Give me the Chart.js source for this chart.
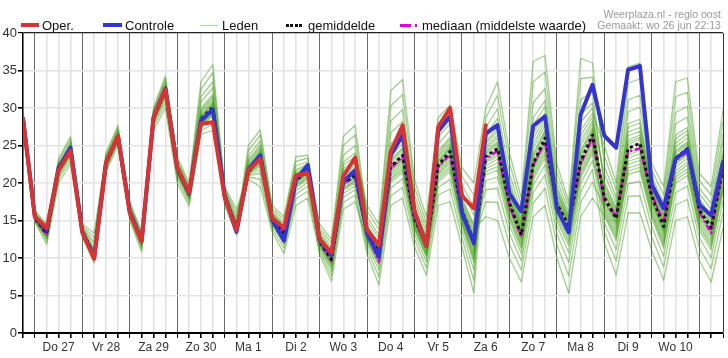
<!DOCTYPE html>
<html>
<head>
<meta charset="utf-8">
<script src="https://cdn.jsdelivr.net/npm/chart.js@4.4.1/dist/chart.umd.min.js"></script>
<style>
html,body{margin:0;padding:0;background:#fff;}
#wrap{position:relative;width:728px;height:358px;overflow:hidden;font-family:"Liberation Sans",Arial,sans-serif;}
#c{position:absolute;left:0;top:0;}
.lg{position:absolute;top:19px;font-size:13px;line-height:13px;color:#111;white-space:nowrap;}
.sw{position:absolute;}
.hdr{position:absolute;right:7px;font-size:10.6px;line-height:11px;color:#999;white-space:nowrap;}
</style>
</head>
<body>
<div id="wrap">
<canvas id="c" width="728" height="358"></canvas>
<div class="sw" style="left:21px;top:23px;width:18px;height:4px;background:#d83232;"></div>
<div class="lg" style="left:42px;">Oper.</div>
<div class="sw" style="left:103px;top:23px;width:19px;height:4px;background:#3434d0;"></div>
<div class="lg" style="left:125px;">Controle</div>
<div class="sw" style="left:200px;top:25px;width:18px;height:1px;background:#a9d99a;"></div>
<div class="lg" style="left:222px;">Leden</div>
<div class="sw" style="left:286px;top:24px;width:16px;height:3px;background:repeating-linear-gradient(90deg,#111 0 3px,transparent 3px 4.5px);"></div>
<div class="lg" style="left:308px;">gemiddelde</div>
<div class="sw" style="left:400px;top:24px;width:11px;height:3px;background:#e000e0;"></div>
<div class="sw" style="left:415px;top:24px;width:2px;height:3px;background:#e000e0;"></div>
<div class="lg" style="left:422px;">mediaan (middelste waarde)</div>
<div class="hdr" style="top:9px;">Weerplaza.nl - regio oost</div>
<div class="hdr" style="top:20px;">Gemaakt: wo 26 jun 22:13</div>
</div>
<script>
// 6-hourly steps starting wo 26 jun 18:00
const dayLabels = ['Do 27','Vr 28','Za 29','Zo 30','Ma 1','Di 2','Wo 3','Do 4','Vr 5','Za 6','Zo 7','Ma 8','Di 9','Wo 10'];
const yTicks = [0,5,10,15,20,25,30,35,40];

const oper = [28.6,15.5,14.0,21.7,24.3,13.4,9.9,22.7,26.3,16.0,12.2,28.7,32.5,22.1,18.7,27.9,28.1,18.1,13.7,21.7,23.2,15.3,14.0,21.0,21.3,12.5,10.7,20.9,23.4,13.8,11.7,24.2,27.7,16.3,11.6,27.5,30.0,18.3,16.6,27.7];
const controle = [28.6,15.5,13.7,22.0,24.7,13.5,10.1,22.7,26.2,16.2,12.3,28.7,32.6,22.0,18.6,28.3,29.8,18.3,13.5,21.8,23.7,15.1,12.3,20.4,22.4,12.4,10.4,20.2,21.7,13.3,10.2,23.7,26.4,16.0,11.6,26.9,28.9,16.0,12.0,26.6,27.7,18.6,16.2,27.6,28.9,16.6,13.4,29.1,33.1,26.3,24.7,35.1,35.6,19.8,16.6,23.2,24.5,17.1,15.7,22.8];
const gemiddelde = [28.6,15.3,13.3,21.8,24.5,13.6,10.3,22.8,26.3,16.1,12.3,28.8,32.5,22.0,18.6,28.5,30.1,18.4,14.0,21.5,23.4,15.2,13.3,20.4,21.5,12.2,9.8,20.0,21.0,13.3,10.8,22.2,23.7,15.3,11.7,22.4,24.2,16.3,12.2,23.5,24.6,17.3,13.1,22.5,26.0,17.2,14.3,22.9,26.4,18.0,15.3,24.6,25.3,18.2,14.2,23.3,24.6,16.4,14.0,22.0];
const mediaan = [28.5,15.3,13.0,21.8,24.5,13.6,10.2,22.8,26.3,16.1,12.3,28.8,32.5,22.0,18.6,28.3,29.7,18.4,14.0,21.5,23.4,15.2,13.3,20.4,21.5,12.2,9.6,20.0,20.8,13.2,9.5,22.0,23.5,15.2,11.6,22.2,23.8,16.0,11.8,23.2,24.3,17.0,12.8,22.4,25.5,16.8,14.3,22.6,26.0,17.7,15.5,24.2,24.6,18.5,14.7,23.0,24.2,16.2,13.3,22.0];

const lid01 = [28.7,15.4,13.4,22.0,24.7,13.7,10.6,22.9,26.4,16.2,12.4,28.9,32.7,22.2,18.7,29.0,30.7,18.5,14.3,23.1,25.1,16.0,14.3,21.8,22.5,13.2,11.0,22.8,24.0,17.0,14.5,32.3,33.8,20.4,15.5,28.7,30.4,22.0,20.0,30.0,33.5,24.0,18.0,36.2,37.0,22.5,17.5,36.6,36.0,22.2,18.1,31.1,31.7,20.8,17.4,29.4,30.2,19.3,17.3,26.6];
const lid02 = [28.4,15.2,12.9,21.3,23.9,13.4,10.0,22.4,25.9,15.8,11.9,28.3,31.8,21.4,18.1,27.9,29.2,18.0,13.7,20.5,19.5,13.5,10.6,17.0,18.0,10.5,6.9,16.5,17.5,12.2,9.0,20.1,21.4,13.8,10.1,20.2,21.5,14.4,9.4,22.7,23.6,16.6,12.5,21.8,25.1,16.5,13.4,22.2,25.6,14.7,11.1,19.9,20.2,14.2,10.2,18.7,19.6,12.7,10.0,17.6];
const lid03 = [29.1,15.9,14.0,22.7,25.5,14.1,12.1,23.5,27.1,16.9,13.0,29.5,33.6,22.9,19.4,31.5,33.5,19.1,15.5,22.2,24.1,15.6,13.7,21.0,21.9,12.7,10.3,21.2,22.3,13.5,11.0,22.7,24.2,15.6,11.9,22.7,24.5,16.6,12.6,17.5,17.4,11.8,8.4,17.3,19.3,11.8,7.6,17.4,20.1,16.8,13.8,22.9,23.4,16.8,12.8,21.6,22.8,15.1,12.6,20.4];
const lid04 = [28.6,15.3,13.2,21.7,24.4,13.6,10.3,22.7,26.2,16.0,12.2,28.7,32.4,21.9,18.5,28.4,29.9,18.3,14.0,25.0,27.1,17.0,15.5,23.5,23.7,14.5,12.5,26.2,27.7,15.5,13.0,28.3,29.8,18.4,14.0,26.2,27.9,19.7,16.9,25.5,27.3,19.3,14.6,26.6,29.3,18.8,15.3,27.0,29.3,25.0,20.0,35.5,36.0,22.6,19.5,33.5,34.0,21.3,19.5,29.7];
const lid05 = [28.0,14.8,11.8,20.0,22.5,12.8,9.3,21.5,25.0,15.0,10.8,27.0,30.0,20.0,16.9,26.5,27.0,17.0,13.0,21.3,22.6,14.9,12.8,19.7,20.8,11.9,9.2,19.3,20.3,11.8,8.4,19.3,20.6,13.2,9.5,19.4,20.5,13.7,8.4,27.4,29.9,21.3,16.0,30.7,32.6,20.4,16.2,31.1,32.2,19.4,16.2,26.8,27.4,19.1,15.3,25.3,26.5,17.4,15.1,23.5];
const lid06 = [28.9,15.6,13.7,22.3,25.0,13.9,11.2,23.2,26.7,16.5,12.7,29.2,33.0,22.5,19.0,30.0,31.8,18.7,14.8,21.1,21.8,14.5,12.2,19.0,20.1,11.5,8.6,18.6,19.6,13.0,10.4,21.7,23.1,14.9,11.3,21.9,23.5,15.8,11.5,23.1,24.1,16.9,12.8,22.2,25.6,16.8,13.9,22.5,26.0,18.4,15.5,25.1,25.8,18.4,14.5,23.8,25.1,16.6,14.3,22.4];
const lid07 = [28.6,15.4,13.4,21.9,24.6,13.6,10.5,22.9,26.4,16.2,12.4,28.9,32.6,22.1,18.7,28.8,30.4,18.5,14.1,21.7,23.6,15.3,13.4,20.6,21.6,12.3,9.9,20.3,21.3,14.4,11.9,25.2,26.7,16.8,12.8,24.3,26.1,18.0,14.5,28.7,31.7,22.7,17.0,33.5,34.8,21.4,16.9,33.9,34.1,23.6,19.1,33.3,33.9,21.7,18.4,31.5,32.1,20.3,18.4,28.2];
const lid08 = [28.3,15.0,12.5,20.8,23.4,13.2,9.8,22.1,25.6,15.5,11.5,27.8,31.1,20.9,17.7,27.4,28.4,17.6,13.5,23.6,25.6,16.3,14.6,22.3,22.8,13.6,11.4,23.7,25.0,14.0,11.5,24.2,25.7,16.3,12.5,23.7,25.4,17.4,13.8,15.5,15.0,10.0,6.8,15.5,17.0,10.0,5.3,15.5,18.0,15.6,12.3,21.2,21.6,15.3,11.3,20.0,21.0,13.7,11.1,18.8];
const lid09 = [29.5,16.3,14.5,23.3,26.2,14.5,13.3,24.0,27.7,17.5,13.5,30.0,34.3,23.5,20.0,33.5,35.8,19.5,16.5,21.4,23.0,15.0,13.0,20.1,21.2,12.0,9.5,19.7,20.7,12.5,9.5,20.6,22.0,14.2,10.5,20.8,22.2,14.9,10.1,24.2,25.5,18.0,13.6,23.9,27.1,17.7,14.6,24.3,27.4,17.7,14.9,24.2,24.8,17.8,13.8,22.9,24.1,16.1,13.6,21.6];
const lid10 = [28.5,15.2,13.0,21.4,24.1,13.4,10.1,22.5,26.0,15.9,12.0,28.4,32.0,21.6,18.3,28.1,29.5,18.1,13.8,21.0,21.3,14.3,11.8,18.5,19.6,11.3,8.2,18.1,19.1,11.2,7.5,18.3,19.4,12.5,8.7,18.4,19.2,12.7,7.0,26.4,28.6,20.3,15.3,28.7,31.0,19.6,15.7,29.1,30.7,20.1,16.7,27.9,28.5,19.5,15.8,26.4,27.4,17.9,15.7,24.3];
const lid11 = [29.0,15.8,13.8,22.5,25.3,14.0,11.7,23.3,26.9,16.7,12.8,29.3,33.3,22.7,19.2,30.8,32.7,18.9,15.1,22.6,24.5,15.7,14.0,21.3,22.2,12.9,10.6,21.9,23.0,16.3,13.8,30.3,31.8,19.4,14.7,27.4,29.2,20.9,18.4,21.1,21.7,15.1,11.2,20.4,23.3,15.0,11.6,20.7,23.9,13.5,9.6,18.2,18.3,12.8,8.8,17.1,17.8,11.4,8.6,16.0];
const lid12 = [28.4,15.1,12.7,21.1,23.7,13.3,9.9,22.3,25.8,15.7,11.7,28.1,31.5,21.2,17.9,27.7,28.9,17.8,13.6,24.3,26.4,16.6,15.1,22.9,23.3,14.0,12.0,25.0,26.4,15.0,12.5,26.7,28.2,17.6,13.4,25.2,27.0,18.9,15.7,23.8,25.0,17.6,13.3,23.2,26.6,17.5,14.5,23.6,26.9,18.7,15.8,25.7,26.4,18.6,14.7,24.3,25.5,16.9,14.6,22.8];
const lid13 = [28.8,15.5,13.5,22.1,24.8,13.8,10.9,23.0,26.6,16.4,12.5,29.0,32.9,22.3,18.9,29.5,31.2,18.6,14.5,20.8,20.5,13.9,11.3,17.9,18.9,10.9,7.6,17.4,18.4,10.5,6.4,17.0,18.0,11.5,7.7,17.0,17.5,11.5,5.3,24.8,26.4,18.6,14.1,25.2,28.2,18.3,14.9,25.6,28.3,21.2,17.4,29.5,30.1,20.2,16.6,27.9,28.8,18.6,16.5,25.5];
const lid14 = [28.5,15.3,13.2,21.6,24.3,13.5,10.2,22.7,26.2,16.0,12.2,28.6,32.3,21.8,18.4,28.3,29.8,18.3,13.9,21.9,23.8,15.4,13.5,20.7,21.7,12.4,10.1,20.6,21.7,13.2,10.6,21.9,23.4,15.1,11.5,22.1,23.9,16.1,11.9,20.3,20.8,14.4,10.6,19.7,22.4,14.3,10.7,19.9,23.0,17.4,14.5,23.7,24.4,17.5,13.5,22.5,23.7,15.7,13.3,21.2];
const lid15 = [29.3,16.1,14.3,23.0,25.9,14.3,12.7,23.8,27.4,17.2,13.3,29.8,33.9,23.2,19.7,32.5,34.7,19.3,16.0,21.2,22.2,14.7,12.5,19.4,20.5,11.7,8.9,19.0,20.0,12.7,9.9,21.2,22.6,14.5,10.9,21.3,22.9,15.3,10.8,21.9,22.7,15.8,11.8,21.1,24.2,15.8,12.5,21.4,24.7,16.2,13.0,22.0,22.5,16.0,12.0,20.8,21.9,14.4,11.8,19.6];
const lid16 = [28.2,14.9,12.2,20.5,23.0,13.0,9.6,21.8,25.3,15.3,11.2,27.5,30.6,20.5,17.3,27.0,27.8,17.4,13.3,21.5,23.2,15.1,13.2,20.2,21.3,12.1,9.7,19.8,20.8,13.7,11.2,23.2,24.7,15.8,12.1,23.0,24.8,16.9,13.0,19.1,19.3,13.3,9.6,18.7,21.1,13.2,9.4,18.8,21.8,12.0,7.7,16.0,16.0,11.0,7.0,15.0,15.5,9.7,6.8,14.0];
const lid17 = [28.6,15.3,13.2,21.6,24.3,13.5,10.2,22.7,26.2,16.0,12.2,28.6,32.3,21.8,18.4,28.3,29.8,18.3,13.9,21.4,22.8,15.0,12.9,19.9,21.0,12.0,9.4,19.5,20.5,13.6,11.1,23.0,24.5,15.7,12.0,22.9,24.7,16.8,12.8,23.5,24.6,17.3,13.1,22.7,26.1,17.2,14.2,23.1,26.5,17.6,14.7,24.0,24.6,17.7,13.7,22.7,23.9,15.9,13.5,21.4];
const lid18 = [28.6,15.4,13.4,21.9,24.6,13.6,10.5,22.9,26.4,16.2,12.4,28.9,32.6,22.1,18.7,28.9,30.5,18.5,14.2,21.6,23.4,15.2,13.3,20.4,21.5,12.2,9.8,20.1,21.1,12.9,10.2,21.5,22.9,14.7,11.1,21.6,23.2,15.6,11.2,22.9,23.9,16.8,12.7,22.0,25.4,16.7,13.7,22.4,25.8,19.1,16.0,26.3,26.9,18.9,15.0,24.8,26.0,17.2,14.9,23.2];
const lid19 = [28.5,15.2,13.1,21.5,24.2,13.4,10.1,22.6,26.1,15.9,12.1,28.5,32.1,21.7,18.3,28.2,29.6,18.2,13.8,22.1,24.0,15.5,13.6,20.9,21.8,12.6,10.2,20.9,22.0,13.1,10.5,21.8,23.3,15.0,11.4,22.0,23.7,16.0,11.7,24.0,25.3,17.8,13.5,23.6,26.9,17.6,14.6,24.0,27.2,18.1,15.2,24.7,25.3,18.1,14.2,23.4,24.6,16.4,14.0,22.0];
const lid20 = [28.6,15.3,13.3,21.8,24.5,13.6,10.4,22.8,26.3,16.1,12.3,28.8,32.5,22.0,18.6,28.6,30.1,18.4,14.0,21.5,23.1,15.1,13.1,20.2,21.3,12.1,9.6,19.8,20.8,13.9,11.4,23.7,25.2,16.1,12.3,23.4,25.1,17.2,13.4,22.3,23.2,16.2,12.2,21.5,24.7,16.2,13.0,21.8,25.2,18.6,15.7,25.4,26.1,18.5,14.6,24.1,25.3,16.8,14.5,22.6];
const lid21 = [28.7,15.4,13.5,22.0,24.7,13.7,10.7,22.9,26.5,16.3,12.4,28.9,32.8,22.2,18.8,29.2,30.9,18.5,14.4,21.8,23.7,15.4,13.5,20.7,21.7,12.4,10.0,20.5,21.5,13.4,10.8,22.3,23.8,15.4,11.7,22.4,24.2,16.4,12.3,24.5,26.0,18.3,13.9,24.6,27.7,18.0,14.8,25.0,27.9,17.1,14.2,23.3,23.9,17.2,13.2,22.1,23.3,15.4,13.0,20.8];
const lid22 = [28.5,15.2,12.9,21.3,24.0,13.4,10.0,22.4,25.9,15.8,11.9,28.3,31.9,21.5,18.2,28.0,29.3,18.0,13.7,22.4,24.3,15.7,13.9,21.2,22.1,12.8,10.5,21.6,22.7,12.6,9.7,20.9,22.3,14.4,10.7,21.1,22.6,15.1,10.5,25.2,26.9,19.0,14.4,25.9,28.8,18.6,15.1,26.3,28.8,16.5,13.4,22.5,23.0,16.4,12.4,21.2,22.4,14.8,12.2,20.0];
const lid23 = [28.8,15.5,13.6,22.2,24.9,13.8,11.0,23.1,26.6,16.4,12.6,29.1,32.9,22.4,18.9,29.7,31.5,18.6,14.6,21.3,22.4,14.8,12.7,19.6,20.7,11.8,9.1,19.2,20.2,14.2,11.7,24.7,26.2,16.6,12.7,24.0,25.8,17.7,14.2,21.5,22.2,15.5,11.5,20.8,23.8,15.4,12.1,21.1,24.3,19.8,16.5,27.4,28.0,19.3,15.6,25.9,27.0,17.7,15.4,23.9];
const lid24 = [28.4,15.1,12.8,21.2,23.8,13.3,9.9,22.3,25.8,15.7,11.8,28.2,31.6,21.3,18.0,27.8,29.0,17.9,13.6,22.9,24.8,15.9,14.2,21.6,22.4,13.1,10.8,22.4,23.5,12.4,9.3,20.4,21.7,14.0,10.3,20.5,21.9,14.7,9.8,26.0,28.0,19.8,15.0,27.7,30.2,19.2,15.5,28.1,30.0,15.9,12.7,21.6,22.1,15.7,11.7,20.4,21.5,14.1,11.5,19.2];
const leden = [lid01,lid02,lid03,lid04,lid05,lid06,lid07,lid08,lid09,lid10,lid11,lid12,lid13,lid14,lid15,lid16,lid17,lid18,lid19,lid20,lid21,lid22,lid23,lid24];

const steps = controle.map((_, i) => i);
const FONT = '"Liberation Sans", Arial, sans-serif';
Chart.defaults.font.family = FONT;

const datasets = [
  {label:'Oper.', data:oper, borderColor:'#d83232', borderWidth:4, borderCapStyle:'round'},
  {label:'Controle', data:controle, borderColor:'#3434d0', borderWidth:4, borderCapStyle:'round'},
  {label:'gemiddelde', data:gemiddelde, borderColor:'#111', borderWidth:3, borderDash:[3,3], borderCapStyle:'butt'},
  {label:'mediaan', data:mediaan, borderColor:'#e000e0', borderWidth:2.5, borderDash:[6,3,2,3], borderCapStyle:'butt'},
  ...leden.map((d, k) => ({label:'Lid '+(k+1), data:d, borderColor:'rgba(52,150,5,0.45)', borderWidth:1.3, borderCapStyle:'round'}))
].map(ds => Object.assign({pointRadius:0, tension:0, fill:false, borderJoinStyle:'round'}, ds));

new Chart(document.getElementById('c'), {
  type:'line',
  data:{labels:steps, datasets},
  options:{
    responsive:false, animation:false, devicePixelRatio:1,
    layout:{padding:{top:33, right:5, left:0, bottom:0}},
    plugins:{legend:{display:false}, tooltip:{enabled:false}},
    scales:{
      x:{
        type:'linear', min:0, max:steps.length-1,
        afterFit(s){ s.height = 25; },
        ticks:{stepSize:1, autoSkip:false, maxRotation:0, padding:2, color:'#333', font:{size:12},
          callback(v){ return ((v-3)%4===0 && dayLabels[(v-3)/4]) ? dayLabels[(v-3)/4] : ''; }},
        grid:{
          color(ctx){ const v = ctx.tick.value; if (v===steps.length-1) return '#333'; return (v%4===1) ? '#6a6a6a' : '#e3e3e3'; },
          lineWidth(ctx){ const v = ctx.tick.value; return (v%4===1 || v===steps.length-1) ? 1 : 1.6; },
          tickColor:'#000', tickLength:5, drawTicks:true
        },
        border:{color:'#000', width:2}
      },
      y:{
        min:0, max:40,
        afterFit(s){ s.width = 23; },
        afterBuildTicks(s){ s.ticks = yTicks.map(v => ({value:v})); },
        ticks:{padding:1, color:'#333', font:{size:13}},
        grid:{
          color(ctx){ return ctx.tick.value===40 ? '#222' : '#e3e3e3'; },
          lineWidth(ctx){ return ctx.tick.value===40 ? 1.2 : 1.6; },
          tickColor:'#000', tickLength:5
        },
        border:{color:'#000', width:1.5}
      }
    }
  }
});
</script>
</body>
</html>
